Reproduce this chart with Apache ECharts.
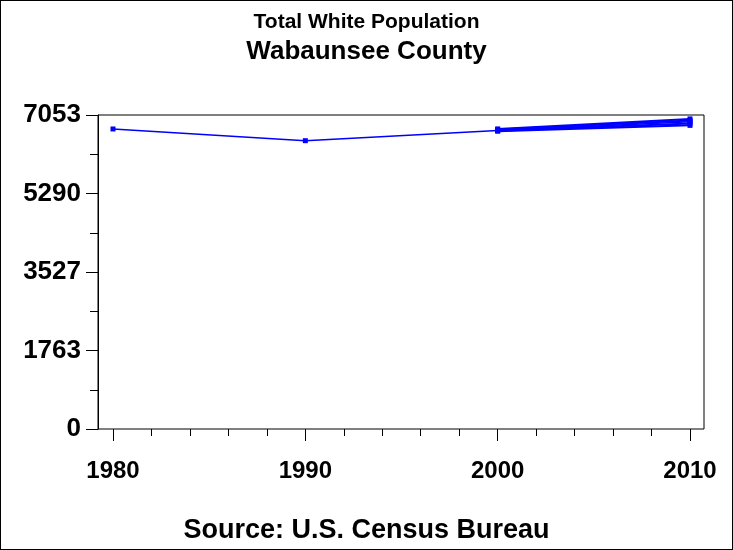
<!DOCTYPE html>
<html>
<head>
<meta charset="utf-8">
<script src="https://cdn.jsdelivr.net/npm/echarts@6/dist/echarts.min.js"></script>
<style>
html,body{margin:0;padding:0;background:#fff;}
#wrap{position:relative;width:733px;height:550px;}
#chart{width:733px;height:550px;}
#frame{position:absolute;left:0;top:0;width:733px;height:550px;box-sizing:border-box;border:1px solid #000;pointer-events:none;}
</style>
</head>
<body>
<div id="wrap"><div id="chart"></div><div id="frame"></div></div>
<script>
const titleText = 'Total White Population';
const subtitleText = 'Wabaunsee County';
const sourceText = 'Source: U.S. Census Bureau';
const years = [1980, 1990, 2000, 2010];
const whitePop = [6739, 6476, 6705, 6900];
// overlapping 2000-2010 series that thicken the last segment
const lateYears = [2000, 2010];
const lateA = [6740, 6965];
const lateB = [6725, 6930];
const lateC = [6700, 6860];
const lateD = [6690, 6820];
const yMax = 7053;
const yTickStep = yMax / 4;

const font = 'Liberation Sans, Arial, sans-serif';
const blue = '#0000FF';

function mkSeries(xs, ys, w) {
  return {
    type: 'line', xAxisIndex: 1, yAxisIndex: 1,
    data: xs.map((x, i) => [x, ys[i]]),
    symbol: 'rect', symbolSize: 5, showSymbol: true,
    lineStyle: {color: blue, width: w},
    itemStyle: {color: blue},
    animation: false, silent: true
  };
}

const chart = echarts.init(document.getElementById('chart'), null, {renderer: 'canvas'});
chart.setOption({
  backgroundColor: '#fff',
  animation: false,
  title: [
    {text: titleText, left: 'center', top: 7, textStyle: {fontFamily: font, fontSize: 21, fontWeight: 'bold', color: '#000'}},
    {text: subtitleText, left: 'center', top: 34, textStyle: {fontFamily: font, fontSize: 26, fontWeight: 'bold', color: '#000'}},
    {text: sourceText, left: 'center', top: 512, textStyle: {fontFamily: font, fontSize: 27, fontWeight: 'bold', color: '#000'}}
  ],
  grid: [
    {left: 98, right: 29, top: 115, bottom: 121, show: true, borderColor: '#000', borderWidth: 1, backgroundColor: 'transparent', containLabel: false},
    {left: 113, right: 43, top: 115, bottom: 121, containLabel: false}
  ],
  xAxis: [
    {gridIndex: 0, type: 'value', min: 0, max: 1, show: false},
    {gridIndex: 1, type: 'value', min: 1980, max: 2010, interval: 10,
     axisLine: {show: false},
     axisTick: {show: true, length: 12, lineStyle: {color: '#000', width: 1}},
     minorTick: {show: true, splitNumber: 5, length: 7, lineStyle: {color: '#000', width: 1}},
     splitLine: {show: false},
     axisLabel: {margin: 30, fontFamily: font, fontSize: 24, fontWeight: 'bold', color: '#000',
       formatter: v => String(v)}}
  ],
  yAxis: [
    {gridIndex: 0, type: 'value', min: 0, max: yMax, interval: yTickStep,
     axisLine: {show: true, lineStyle: {color: '#000', width: 1}},
     axisTick: {show: true, length: 12, lineStyle: {color: '#000', width: 1}},
     minorTick: {show: true, splitNumber: 2, length: 8, lineStyle: {color: '#000', width: 1}},
     splitLine: {show: false},
     axisLabel: {margin: 17, fontFamily: font, fontSize: 26, fontWeight: 'bold', color: '#000',
       padding: [4, 0, 0, 0],
       formatter: v => String(Math.round(v))}},
    {gridIndex: 1, type: 'value', min: 0, max: yMax, show: false}
  ],
  series: [
    mkSeries(years, whitePop, 1.5),
    mkSeries(lateYears, lateA, 2),
    mkSeries(lateYears, lateB, 2),
    mkSeries(lateYears, lateC, 2),
    mkSeries(lateYears, lateD, 2)
  ]
});
</script>
</body>
</html>
